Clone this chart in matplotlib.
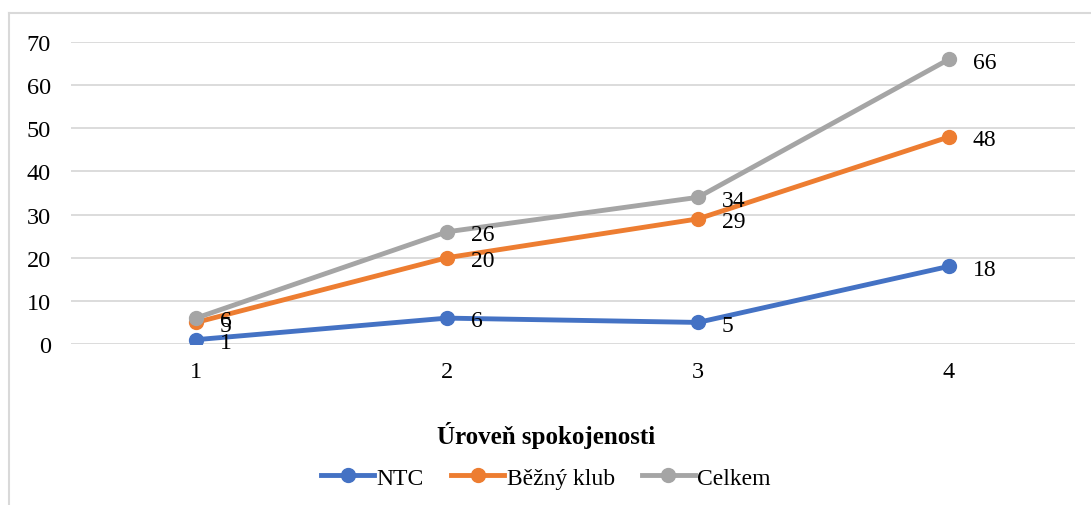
import matplotlib
matplotlib.use("Agg")
import matplotlib.pyplot as plt
from matplotlib.lines import Line2D

categories = [1, 2, 3, 4]
ntc = [1, 6, 5, 18]
bezny = [5, 20, 29, 48]
celkem = [6, 26, 34, 66]
yticks = [0, 10, 20, 30, 40, 50, 60, 70]
xlabel = "Úroveň spokojenosti"
names = ["NTC", "Běžný klub", "Celkem"]
colors = ["#4472C4", "#ED7D31", "#A5A5A5"]

plt.rcParams['font.family'] = ['Liberation Serif', 'DejaVu Serif']

W, H = 1091, 506
fig = plt.figure(figsize=(W / 100, H / 100), dpi=100)
ax = fig.add_axes([70.5 / W, 1 - 345 / H, (1074.5 - 70.5) / W, (345 - 43) / H])

series = [ntc, bezny, celkem]
x = list(range(len(categories)))
for vals, name, col in zip(series, names, colors):
    ax.plot(x, vals, color=col, lw=3.5, marker='o', markersize=10,
            solid_capstyle='round', label=name, zorder=3)
    for xi, v in zip(x, vals):
        ax.annotate(str(v), (xi, v), xytext=(17, -2), textcoords='offset points',
                    ha='left', va='center', fontsize=17, color='#000000', zorder=4)

ax.set_xlim(-0.5, len(categories) - 0.5)
ax.set_ylim(0, 70)
ax.set_yticks(yticks)
ax.set_xticks(x)
ax.set_xticklabels([str(c) for c in categories])
ax.grid(axis='y', color='#D9D9D9', lw=1.3)
ax.set_axisbelow(True)
for s in ax.spines.values():
    s.set_visible(False)
ax.tick_params(axis='both', length=0, labelsize=17.5, colors='#000000')
ax.tick_params(axis='y', pad=14)
ax.tick_params(axis='x', pad=12)

cx = 546 / W
fig.text(cx, 1 - 436 / H, xlabel, ha='center', va='center', fontsize=18, fontweight='bold')

handles = [Line2D([0], [0], color=c, lw=3.5, marker='o', markersize=10) for c in colors]
fig.legend(handles, names, loc='center', bbox_to_anchor=(cx, 1 - 479 / H),
           ncol=3, frameon=False, fontsize=17, handlelength=2.25, handletextpad=0.1,
           columnspacing=1.15, borderpad=0, borderaxespad=0)

# chart border (partly cut)
fig.add_artist(Line2D([8.5 / W, 8.5 / W], [0, 1 - 14 / H], color='#D9D9D9', lw=1.5,
                      transform=fig.transFigure))
fig.add_artist(Line2D([8.5 / W, 1], [1 - 14 / H, 1 - 14 / H], color='#D9D9D9', lw=1.5,
                      transform=fig.transFigure))

fig.savefig("out.png", dpi=100)
